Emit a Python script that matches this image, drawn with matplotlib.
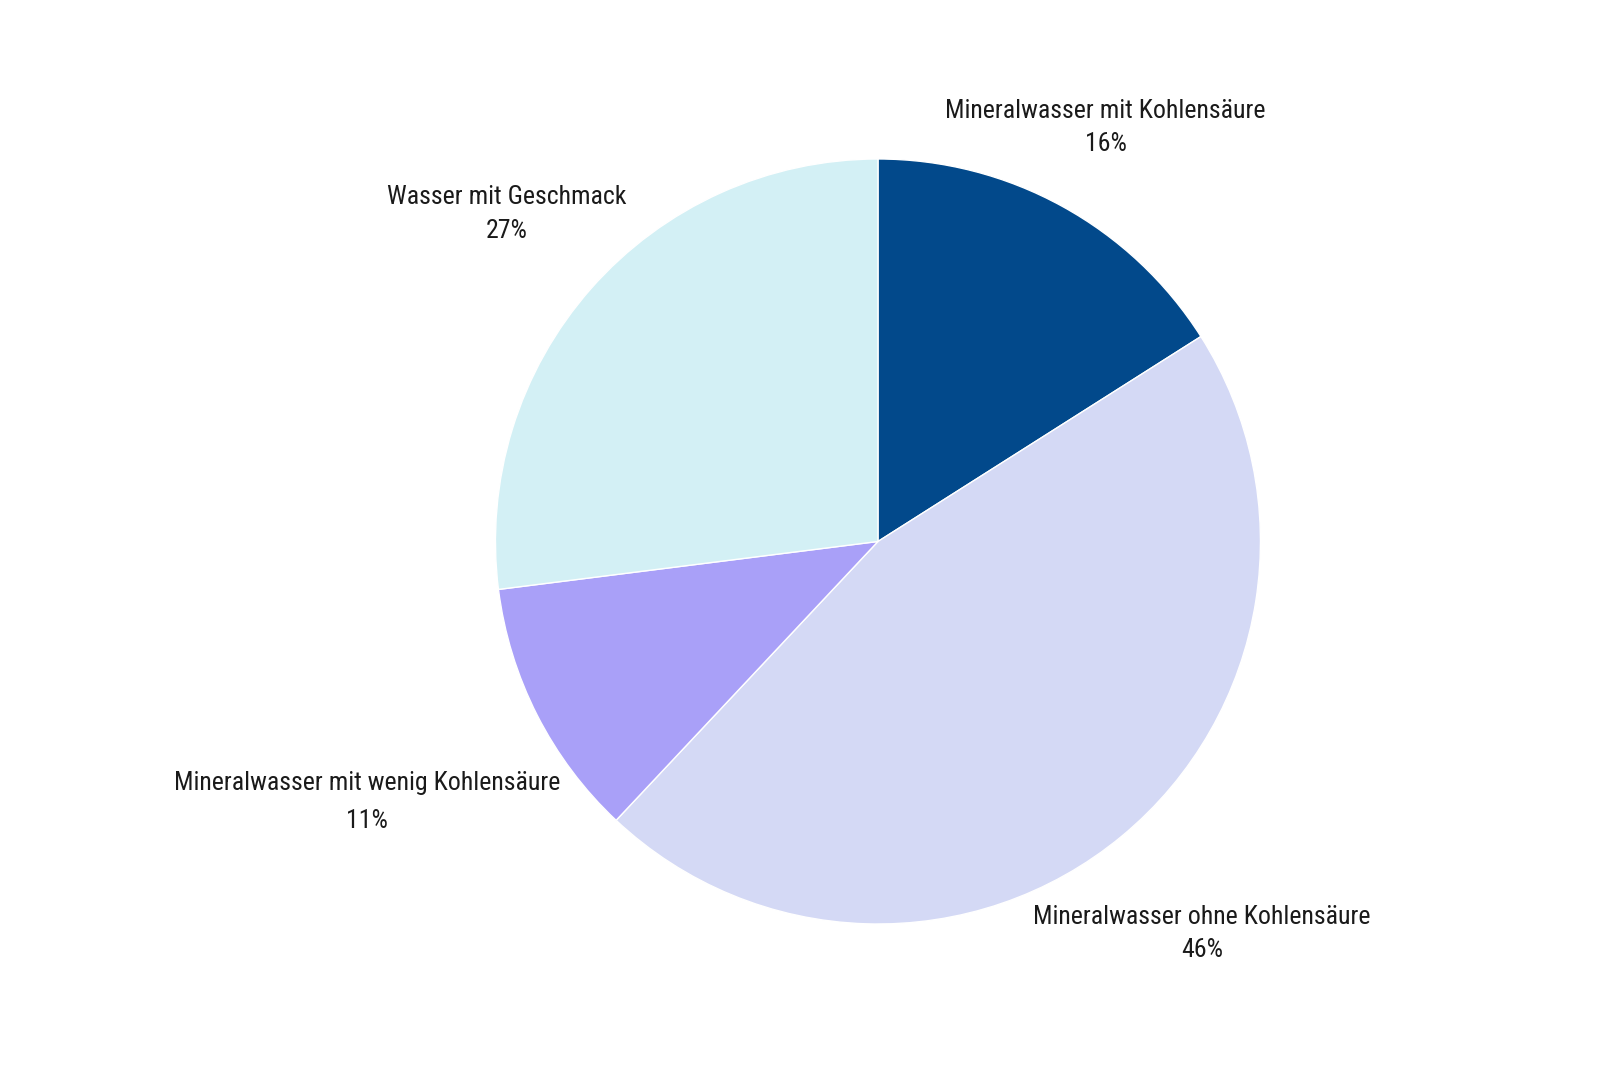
import numpy as np
import matplotlib
matplotlib.use("Agg")
import matplotlib.pyplot as plt
from matplotlib import font_manager

# the original uses a condensed face; take the first one that is installed
installed = {f.name for f in font_manager.fontManager.ttflist}
font = "DejaVu Sans"
for cand in ["Roboto Condensed", "Liberation Sans Narrow", "Open Sans Condensed",
             "Noto Sans Condensed", "DejaVu Sans Condensed", "Roboto"]:
    if cand in installed:
        font = cand
        break
plt.rcParams['font.family'] = [font, 'DejaVu Sans']

# data (clockwise from 12 o'clock)
categories = ["Mineralwasser mit Kohlensäure",
              "Mineralwasser ohne Kohlensäure",
              "Mineralwasser mit wenig Kohlensäure",
              "Wasser mit Geschmack"]
shares = [16, 46, 11, 27]
colors = ["#02498b", "#d4d9f5", "#a9a0f8", "#d3f0f5"]

# label placement: distance in radii and line spacing
label_dist = [1.235, 1.33, 1.5, 1.295]
label_spacing = [1.5, 1.5, 1.72, 1.5]

fig = plt.figure(figsize=(16, 10.8), dpi=100)
ax = fig.add_axes([0.0706, 0.0205, 0.95625, 0.95625])

wedges, _ = ax.pie(shares, colors=colors, startangle=90, counterclock=False,
                   wedgeprops=dict(linewidth=1, edgecolor="white"))

fs = 18.6 if font != "Roboto" else 16.5
for w, name, pct, d, ls in zip(wedges, categories, shares,
                                label_dist, label_spacing):
    ang = np.deg2rad((w.theta1 + w.theta2) / 2)
    x, y = d * np.cos(ang), d * np.sin(ang)
    ax.text(x, y, f"{name}\n{pct}%", ha="center", va="center",
            fontsize=fs, color="#1a1a1a", linespacing=ls)

ax.set_xlim(-2, 2)
ax.set_ylim(-1.35, 1.35)
ax.set_aspect("equal")
ax.axis("off")

fig.savefig("out.png", dpi=100, facecolor="white")
